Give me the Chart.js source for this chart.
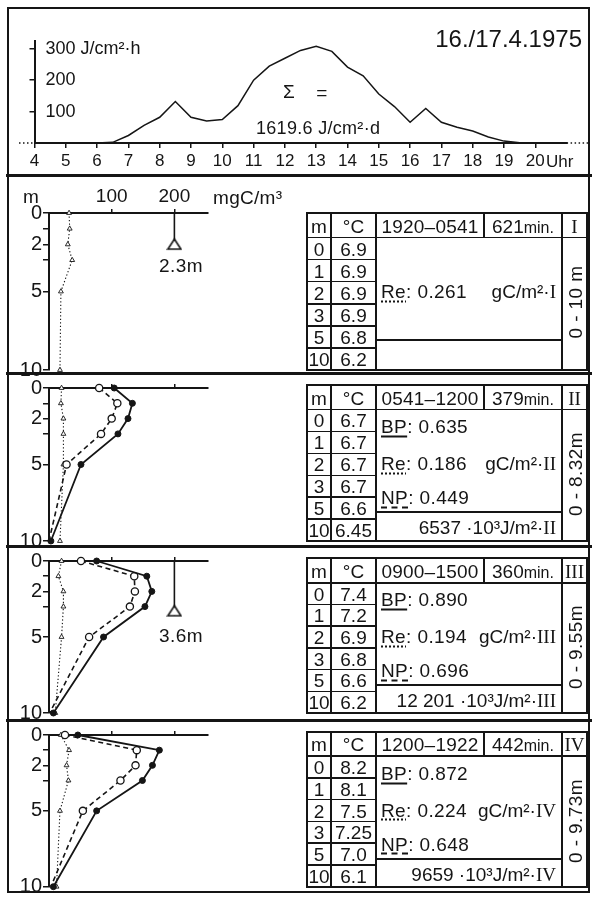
<!DOCTYPE html>
<html>
<head>
<meta charset="utf-8">
<script src="https://cdn.jsdelivr.net/npm/chart.js@4.4.0/dist/chart.umd.min.js"></script>
<style>
  html, body { margin: 0; padding: 0; background: #fff; }
  #fig { position: relative; width: 592px; height: 899px; overflow: hidden;
         font-family: 'Liberation Sans', Arial, sans-serif; color: #151515; }
  canvas { position: absolute; left: 0; z-index: 1; }
  .t { position: absolute; white-space: nowrap; line-height: 1; z-index: 2; letter-spacing: 0.4px; }
  .hl { position: absolute; background: #151515; z-index: 2; }
  .box { position: absolute; border: 2px solid #151515; box-sizing: border-box; z-index: 2; }
  .rn { font-family: 'Liberation Serif', serif; }
  .u1 { text-decoration: underline solid 1.5px; text-underline-offset: 3px; }
  .u2 { text-decoration: underline dotted 1.5px; text-underline-offset: 3px; }
  .u3 { text-decoration: underline dashed 1.5px; text-underline-offset: 3px; }
  small { font-size: 16px; }
</style>
</head>
<body>
<div id="fig"></div>
<script>
// global radiation, J/cm²·h, half-hourly
const hours = [6, 6.5, 7, 7.5, 8, 8.5, 9, 9.5, 10, 10.5, 11, 11.5, 12, 12.5, 13, 13.5,
               14, 14.5, 15, 15.5, 16, 16.5, 17, 17.5, 18, 18.5, 19, 19.5];
const radiation = [0, 2, 24, 56, 82, 132, 82, 70, 75, 119, 200, 245, 270, 295, 308, 292,
                   242, 214, 156, 116, 66, 110, 66, 50, 38, 19, 6, 1];
const hourTicks = [4, 5, 6, 7, 8, 9, 10, 11, 12, 13, 14, 15, 16, 17, 18, 19, 20];
const radTicks = [100, 200, 300];

// depth profiles, mgC/m³
const depths = [0, 1, 2, 3, 5, 10];
const depthTicks = [0, 1, 2, 3, 5, 10];
const depthLabels = [0, 2, 5, 10];
const concTicks = [100, 200];

const reI   = [32, 33, 30, 37, 19, 17.5];
const bpII  = [104, 133, 126, 110, 51, 3];
const npII  = [80, 109, 100, 83, 28, 0];
const reII  = [20, 19, 23, 23, 23, 17.5];
const bpIII = [76, 156, 164, 153, 87, 7];
const npIII = [51, 136, 137, 129, 64, 1];
const reIII = [20, 15, 23, 23, 20, 10];
const bpIV  = [46, 176, 165, 149, 76, 7];
const npIV  = [25.5, 140, 138, 114, 54, 3];
const reIV  = [19, 32, 28, 31, 17.5, 12];

const secchiDepth = [2.3, null, 3.6, null];
const secchiAt = 200;

// table contents
const periodNames = ['I', 'II', 'III', 'IV'];
const periodTimes = ['1920–0541', '0541–1200', '0900–1500', '1200–1922'];
const periodMinutes = [621, 379, 360, 442];
const layerDepth = ['0 - 10 m', '0 - 8.32m', '0 - 9.55m', '0 - 9.73m'];
const tempI   = ['6.9', '6.9', '6.9', '6.9', '6.8', '6.2'];
const tempII  = ['6.7', '6.7', '6.7', '6.7', '6.6', '6.45'];
const tempIII = ['7.4', '7.2', '6.9', '6.8', '6.6', '6.2'];
const tempIV  = ['8.2', '8.1', '7.5', '7.25', '7.0', '6.1'];
const bpSum = [null, '0.635', '0.890', '0.872'];
const reSum = ['0.261', '0.186', '0.194', '0.224'];
const npSum = [null, '0.449', '0.696', '0.648'];
const energySum = [null, '6537', '12 201', '9659'];

const INK = '#151515';
Chart.defaults.font.family = "'Liberation Sans', Arial, sans-serif";
Chart.defaults.color = INK;
Chart.defaults.borderColor = INK;

const fig = document.getElementById('fig');

function el(cls, css, html) {
  const d = document.createElement('div');
  d.className = cls;
  Object.assign(d.style, css);
  if (html !== undefined) d.innerHTML = html;
  fig.appendChild(d);
  return d;
}
function txt(html, x, y, anchor, size, extra) {
  const tx = anchor === 'l' ? '0' : anchor === 'r' ? '-100%' : '-50%';
  return el('t', Object.assign({ left: x + 'px', top: y + 'px', fontSize: (size || 19) + 'px',
    transform: 'translate(' + tx + ',-50%)' }, extra || {}), html);
}
function hline(x1, x2, y, w) {
  w = w || 1.8;
  el('hl', { left: (x1 - w / 2) + 'px', top: (y - w / 2) + 'px', width: (x2 - x1 + w) + 'px', height: w + 'px' });
}
function vline(x, y1, y2, w) {
  w = w || 1.8;
  el('hl', { left: (x - w / 2) + 'px', top: (y1 - w / 2) + 'px', width: w + 'px', height: (y2 - y1 + w) + 'px' });
}
function addCanvas(top, h, w) {
  const c = document.createElement('canvas');
  c.width = w; c.height = h;
  c.style.top = top + 'px';
  c.style.width = w + 'px'; c.style.height = h + 'px';
  fig.appendChild(c);
  return c;
}

// frame and dividers
el('box', { left: '7px', top: '7px', width: '583px', height: '886px' });
[175, 373, 546, 720].forEach(y => hline(7, 590, y, 3));

// ---- top panel: radiation ----
const dotsPlugin = {
  id: 'dots',
  afterDraw(chart) {
    const ctx = chart.ctx, a = chart.chartArea;
    const y = chart.scales.y.getPixelForValue(0);
    ctx.save();
    ctx.setLineDash([1.5, 2.5]);
    ctx.lineWidth = 1.5;
    ctx.strokeStyle = INK;
    ctx.beginPath();
    ctx.moveTo(19, y); ctx.lineTo(a.left, y);
    ctx.moveTo(a.right, y); ctx.lineTo(588, y);
    ctx.stroke();
    ctx.restore();
  }
};

const topCanvas = addCanvas(0, 178, 592);
new Chart(topCanvas, {
  type: 'scatter',
  data: {
    datasets: [{
      data: hours.map((h, i) => ({ x: h, y: radiation[i] })),
      showLine: true, borderColor: INK, borderWidth: 1.5, pointRadius: 0, tension: 0, clip: false
    }]
  },
  options: {
    responsive: false, animation: false, events: [],
    layout: { padding: { left: 0, right: 25.4, top: 41, bottom: 0 } },
    plugins: { legend: { display: false }, tooltip: { enabled: false } },
    scales: {
      x: {
        type: 'linear', min: 4, max: 21,
        afterBuildTicks: s => { s.ticks = hourTicks.map(v => ({ value: v })); },
        afterFit: s => { s.height = 35; },
        ticks: { font: { size: 17 }, padding: 3, autoSkip: false, maxRotation: 0 },
        grid: { drawOnChartArea: false, tickLength: 5, lineWidth: 1.5, color: INK },
        border: { width: 2, color: INK }
      },
      y: {
        type: 'linear', min: 0, max: 325,
        afterBuildTicks: s => { s.ticks = radTicks.map(v => ({ value: v })); },
        afterFit: s => { s.width = 34.5; },
        ticks: { mirror: true, padding: 11, font: { size: 18 },
                 callback: v => v === 300 ? '300 J/cm²·h' : String(v) },
        grid: { drawOnChartArea: false, tickLength: 5, lineWidth: 1.5, color: INK },
        border: { width: 2, color: INK }
      }
    }
  },
  plugins: [dotsPlugin]
});

txt('16./17.4.1975', 582, 39, 'r', 24, { letterSpacing: '0px' });
txt('Σ', 289, 91, 'c', 19);
txt('=', 322, 92, 'c', 19);
txt('1619.6 J/cm²·d', 256, 128, 'l', 18, { letterSpacing: '0.3px' });
txt('Uhr', 546, 161, 'l', 17, { letterSpacing: '0px' });

// ---- depth panels ----
const panelGeom = [
  { top: 177, y0: 213, y10: 370 },
  { top: 375, y0: 385, y10: 541 },
  { top: 548, y0: 558.3, y10: 713 },
  { top: 722, y0: 731.7, y10: 886.7 }
];
const series = [
  { bp: null, np: null, re: reI, temp: tempI },
  { bp: bpII, np: npII, re: reII, temp: tempII },
  { bp: bpIII, np: npIII, re: reIII, temp: tempIII },
  { bp: bpIV, np: npIV, re: reIV, temp: tempIV }
];

// triangle with its base on the point
const triImg = document.createElement('canvas');
triImg.width = 16; triImg.height = 24;
(() => {
  const c = triImg.getContext('2d');
  c.lineWidth = 1.6; c.strokeStyle = INK; c.fillStyle = '#fff';
  c.beginPath(); c.moveTo(8, 2); c.lineTo(14.5, 12); c.lineTo(1.5, 12); c.closePath();
  c.fill(); c.stroke();
})();

const pts = vals => vals.map((v, i) => ({ x: v, y: depths[i] }));

panelGeom.forEach((g, p) => {
  const s = series[p];
  const h = Math.round(g.y10 - g.top + 16);
  const c = addCanvas(g.top, h, 300);
  const ds = [];
  if (s.bp) ds.push({
    data: pts(s.bp), showLine: true, borderColor: INK, borderWidth: 1.8,
    pointStyle: 'circle', pointRadius: 3, pointBackgroundColor: INK, pointBorderColor: INK,
    pointBorderWidth: 1, clip: false
  });
  if (s.np) ds.push({
    data: pts(s.np), showLine: true, borderColor: INK, borderWidth: 1.6, borderDash: [5, 3.5],
    pointStyle: 'circle', pointRadius: [3.6, 3.6, 3.6, 3.6, 3.6, 0], pointBackgroundColor: '#fff',
    pointBorderColor: INK, pointBorderWidth: 1.3, clip: false
  });
  ds.push({
    data: pts(s.re), showLine: true, borderColor: INK, borderWidth: 1.1, borderDash: [1.3, 2.2],
    pointStyle: 'triangle', pointRadius: 2.8, pointBackgroundColor: '#fff',
    pointBorderColor: INK, pointBorderWidth: 0.9, clip: false
  });
  if (secchiDepth[p]) ds.push({
    data: [{ x: secchiAt, y: 0 }, { x: secchiAt, y: secchiDepth[p] }],
    showLine: true, borderColor: INK, borderWidth: 1.6,
    pointRadius: [0, 6], pointStyle: triImg, clip: false
  });

  new Chart(c, {
    type: 'scatter',
    data: { datasets: ds },
    options: {
      responsive: false, animation: false, events: [],
      layout: { padding: { left: 0, right: 92, top: 0, bottom: h - (g.y10 - g.top) } },
      plugins: { legend: { display: false }, tooltip: { enabled: false } },
      scales: {
        x: {
          type: 'linear', position: 'top', min: 0, max: 253.6,
          afterBuildTicks: sc => { sc.ticks = concTicks.map(v => ({ value: v })); },
          afterFit: sc => { sc.height = g.y0 - g.top; },
          ticks: { font: { size: 19 }, padding: 1, autoSkip: false, maxRotation: 0,
                   callback: v => p === 0 ? String(v) : '' },
          grid: { drawOnChartArea: false, tickLength: 4, lineWidth: 1.5, color: INK },
          border: { width: 2, color: INK }
        },
        y: {
          type: 'linear', reverse: true, min: 0, max: 10,
          afterBuildTicks: sc => { sc.ticks = depthTicks.map(v => ({ value: v })); },
          afterFit: sc => { sc.width = 49; },
          ticks: { font: { size: 20 }, padding: 1, autoSkip: false,
                   callback: v => depthLabels.includes(v) ? String(v) : '' },
          grid: { drawOnChartArea: false, tickLength: 6, lineWidth: 1.5, color: INK },
          border: { width: 2, color: INK }
        }
      }
    }
  });

  if (secchiDepth[p]) {
    const ly = p === 0 ? 265 : 635;
    txt(secchiDepth[p] + 'm', 181, ly, 'c', 19);
  }

  // table
  const TL = 307, CM = 331, CC = 376, CT = 484, CN = 562, TR = 587;
  const T = g.y0, B = g.y10, hb = T + 24.5, rh = (B - hb) / 6;
  hline(TL, TR, T); hline(TL, TR, B); vline(TL, T, B); vline(TR, T, B);
  hline(TL, TR, hb);
  vline(CM, T, B); vline(CC, T, B); vline(CT, T, hb); vline(CN, T, B);
  for (let i = 1; i < 6; i++) hline(TL, CC, hb + i * rh, 1.5);
  hline(CC, CN, T + 127);

  const hy = T + 12.5;
  const tight = { letterSpacing: '0px' };
  txt('m', (TL + CM) / 2, hy, 'c', 19, tight);
  txt('°C', (CM + CC) / 2, hy, 'c', 19, tight);
  txt(periodTimes[p], (CT + CC) / 2, hy, 'c', 19, { letterSpacing: '0.2px' });
  txt(periodMinutes[p] + '<small>min.</small>', (CT + CN) / 2, hy, 'c', 19, tight);
  txt('<span class="rn">' + periodNames[p] + '</span>', (CN + TR) / 2, hy, 'c', 19, tight);
  depths.forEach((d, i) => {
    const ry = hb + (i + 0.5) * rh;
    txt(String(d), (TL + CM) / 2, ry, 'c', 19, tight);
    txt(s.temp[i], (CM + CC) / 2, ry, 'c', 19, tight);
  });

  const roman = '<span class="rn">' + periodNames[p] + '</span>';
  if (bpSum[p]) txt('<span class="u1">BP</span>: ' + bpSum[p], 381, T + 41, 'l', 19);
  txt('<span class="u2">Re</span>: ' + reSum[p], 381, T + 78, 'l', 19);
  txt('gC/m²·' + roman, 556, T + 78, 'r', 19, tight);
  if (npSum[p]) txt('<span class="u3">NP</span>: ' + npSum[p], 381, T + 112, 'l', 19);
  if (energySum[p]) txt(energySum[p] + ' ·10³J/m²·' + roman, 556, T + 142, 'r', 19, tight);
  el('t', { left: ((CN + TR) / 2) + 'px', top: (T + 89) + 'px', fontSize: '19px',
            transform: 'translate(-50%,-50%) rotate(-90deg)' }, layerDepth[p]);
});

// panel I header
txt('m', 31, 196, 'c', 19, { letterSpacing: '0px' });
txt('mgC/m³', 213, 197, 'l', 19, { letterSpacing: '0.3px' });
</script>
</body>
</html>
